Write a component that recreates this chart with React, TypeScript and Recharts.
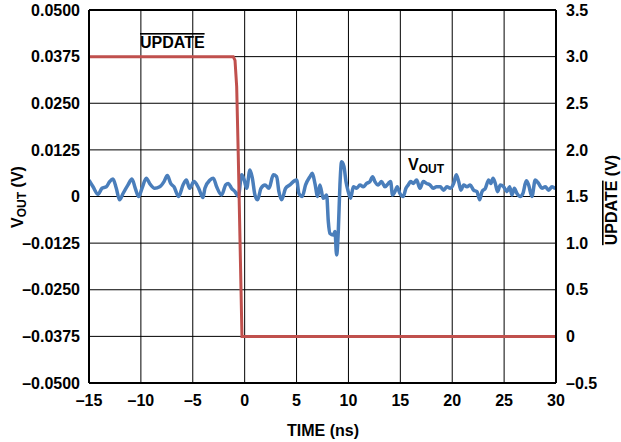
import React from 'react';
import { LineChart, Line, XAxis, YAxis, CartesianGrid, ReferenceLine } from 'recharts';

const FONT = '"Liberation Sans", Arial, Helvetica, sans-serif';

const timeTicks = [-15, -10, -5, 0, 5, 10, 15, 20, 25, 30];
const voutTicks = [-0.05, -0.0375, -0.025, -0.0125, 0, 0.0125, 0.025, 0.0375, 0.05];
const updateTicks = [-0.5, 0, 0.5, 1, 1.5, 2, 2.5, 3, 3.5];

// V_OUT glitch trace (ns, V)
const voutTime = [
  -15.0, -14.61, -14.13, -13.75, -13.33, -13.01, -12.69, -12.37, -12.05, -11.72,
  -11.24, -10.86, -10.54, -10.22, -9.89, -9.48, -9.16, -8.67, -8.19, -7.77,
  -7.45, -7.13, -6.81, -6.36, -5.94, -5.62, -5.3, -4.89, -4.43, -4.02,
  -3.83, -3.34, -3.02, -2.7, -2.22, -1.83, -1.58, -1.26, -0.93, -0.61,
  -0.29, -0.04, 0.19, 0.51, 0.74, 0.99, 1.25, 1.57, 1.96, 2.34,
  2.76, 3.08, 3.3, 3.56, 3.95, 4.36, 4.78, 5.01, 5.23, 5.55,
  5.87, 6.29, 6.52, 6.77, 7.03, 7.25, 7.57, 7.9, 8.06, 8.22,
  8.54, 8.7, 8.86, 9.02, 9.18, 9.34, 9.57, 9.76, 9.98, 10.21,
  10.47, 10.79, 11.11, 11.43, 11.75, 12.07, 12.33, 12.55, 12.87, 13.19,
  13.52, 13.84, 14.06, 14.25, 14.48, 14.7, 14.96, 15.28, 15.54, 15.76,
  15.99, 16.25, 16.57, 16.89, 17.21, 17.53, 17.85, 18.17, 18.49, 18.85,
  19.17, 19.49, 19.81, 20.14, 20.39, 20.62, 20.84, 21.1, 21.42, 21.74,
  22.06, 22.38, 22.64, 22.87, 23.19, 23.51, 23.73, 23.93, 24.15, 24.37,
  24.63, 24.95, 25.27, 25.53, 25.76, 25.98, 26.24, 26.56, 26.81, 27.14,
  27.36, 27.68, 28.0, 28.32, 28.65, 28.97, 29.29, 29.61, 29.93, 30.0,
];
const voutValue = [
  0.0044, 0.0026, 0.0006, 0.0022, 0.0026, 0.004, 0.0047, 0.0022, -0.0009, 0.0008,
  0.0031, 0.0047, 0.0022, 0.0, 0.0022, 0.0049, 0.0035, 0.0022, 0.0026, 0.004,
  0.0056, 0.0035, 0.0026, 0.0, 0.0031, 0.0044, 0.0022, 0.004, 0.0022, -0.0003,
  0.0022, 0.0044, 0.0049, 0.0026, 0.0004, 0.0031, 0.0035, 0.0022, 0.0013, 0.0,
  0.0058, 0.0044, 0.0022, 0.0071, 0.0049, 0.0004, -0.0009, 0.0022, 0.0031, 0.0022,
  0.0058, 0.0053, 0.0013, -0.0009, 0.0022, 0.0031, 0.0042, 0.0044, 0.0008, 0.0,
  0.0031, 0.0053, 0.0062, 0.0035, 0.0, 0.0031, -0.0005, 0.0004, -0.0067, -0.0099,
  -0.0103, -0.0094, -0.0157, -0.0094, 0.0031, 0.0093, 0.008, 0.004, 0.0013, -0.0005,
  0.0026, 0.0022, 0.0031, 0.0026, 0.0035, 0.004, 0.0053, 0.004, 0.0031, 0.004,
  0.0026, 0.0035, 0.004, 0.0004, 0.0013, 0.0026, 0.0008, 0.0, 0.0022, 0.0031,
  0.004, 0.0035, 0.0044, 0.0022, 0.004, 0.0035, 0.0031, 0.0022, 0.0026, 0.0026,
  0.0017, 0.0026, 0.0022, 0.0035, 0.0058, 0.004, 0.0017, 0.0031, 0.0026, 0.0031,
  0.0017, 0.0013, -0.0009, 0.0013, 0.0022, 0.0044, 0.0035, 0.0049, 0.0035, 0.0013,
  0.0031, 0.0026, 0.0013, 0.0026, 0.0004, 0.0022, 0.0008, 0.0, 0.0008, 0.0042,
  0.0031, 0.0, 0.0044, 0.0035, 0.0022, 0.0026, 0.0017, 0.0026, 0.0022, 0.0022,
];

// UPDATE edge (ns, V)
const updateTime = [-15, -1.1, -0.93, -0.77, -0.62, -0.26, 30];
const updateValue = [3.0, 3.0, 2.96, 2.68, 1.96, 0, 0];

const voutData = voutTime.map((t, i) => ({ t, v: voutValue[i] }));
const updateData = updateTime.map((t, i) => ({ t, u: updateValue[i] }));

const dash = (s: string) => s.replace('-', '\u2013');
const fmtTime = (v: number) => dash(String(v));
const fmtVout = (v: number) => (v === 0 ? '0' : dash(v.toFixed(4)));
const fmtUpdate = (v: number) => (v === 0 ? '0' : dash(v.toFixed(1)));

const tickStyle = { fill: '#000', fontSize: 16, fontWeight: 'bold', fontFamily: FONT };
const axisLineStyle = { stroke: '#000', strokeWidth: 2 };

export default function App() {
  return (
    <div style={{ position: 'absolute', left: 0, top: 0, width: 621, height: 442, background: '#fff' }}>
      <LineChart width={621} height={442} margin={{ top: 10, right: 0, bottom: 0, left: 0 }}>
        <CartesianGrid yAxisId="left" stroke="#000" strokeWidth={1} />
        <XAxis
          type="number"
          dataKey="t"
          domain={[-15, 30]}
          ticks={timeTicks}
          interval={0}
          allowDataOverflow
          height={59}
          tickLine={false}
          tickSize={0}
          tickMargin={12}
          tick={tickStyle}
          tickFormatter={fmtTime}
          axisLine={axisLineStyle}
        />
        <YAxis
          yAxisId="left"
          orientation="left"
          type="number"
          width={89}
          domain={[-0.05, 0.05]}
          ticks={voutTicks}
          interval={0}
          allowDataOverflow
          tickLine={false}
          tickSize={0}
          tickMargin={9}
          tick={tickStyle}
          tickFormatter={fmtVout}
          axisLine={axisLineStyle}
        />
        <YAxis
          yAxisId="right"
          orientation="right"
          type="number"
          width={65}
          domain={[-0.5, 3.5]}
          ticks={updateTicks}
          interval={0}
          allowDataOverflow
          tickLine={false}
          tickSize={0}
          tickMargin={10}
          tick={{ ...tickStyle, textAnchor: 'start' }}
          tickFormatter={fmtUpdate}
          axisLine={axisLineStyle}
        />
        <ReferenceLine yAxisId="left" y={0.05} stroke="#000" strokeWidth={2} />
        <Line
          yAxisId="left"
          data={voutData}
          dataKey="v"
          type="monotone"
          stroke="#4a7ebb"
          strokeWidth={3.5}
          strokeLinejoin="round"
          dot={false}
          isAnimationActive={false}
        />
        <Line
          yAxisId="right"
          data={updateData}
          dataKey="u"
          type="linear"
          stroke="#c0504d"
          strokeWidth={3}
          dot={false}
          isAnimationActive={false}
        />
      </LineChart>
      <svg
        width={621}
        height={442}
        style={{ position: 'absolute', left: 0, top: 0, pointerEvents: 'none' }}
        fontFamily={FONT}
        fontWeight="bold"
        fill="#000"
      >
        <text x={323} y={436} fontSize={16} textAnchor="middle">TIME (ns)</text>
        <text transform="translate(23,197) rotate(-90)" fontSize={16} textAnchor="middle">
          V<tspan fontSize={12} dy={3}>OUT</tspan>
          <tspan fontSize={16} dy={-3}> (V)</tspan>
        </text>
        <text
          transform="translate(617,200) rotate(-90)"
          fontSize={16}
          textAnchor="middle"
        >
          <tspan style={{ textDecoration: 'overline' }}>UPDATE</tspan> (V)
        </text>
        <text x={140} y={48} fontSize={16} style={{ textDecoration: 'overline' }}>UPDATE</text>
        <text x={408} y={170} fontSize={16}>
          V<tspan fontSize={12} dy={3}>OUT</tspan>
        </text>
      </svg>
    </div>
  );
}
